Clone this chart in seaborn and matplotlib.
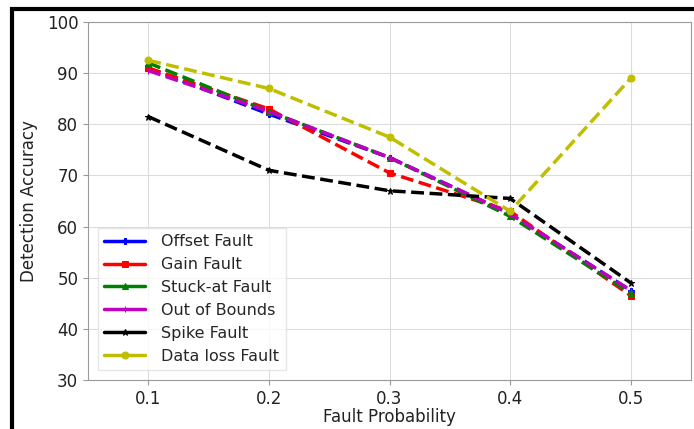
import matplotlib
matplotlib.use("Agg")
import matplotlib.pyplot as plt
import matplotlib.patches as mpatches
import seaborn as sns

fault_prob = [0.1, 0.2, 0.3, 0.4, 0.5]

offset_fault = [91.0, 82.0, 73.5, 62.5, 47.5]
gain_fault = [91.0, 83.0, 70.5, 63.0, 46.5]
stuck_fault = [92.0, 82.5, 73.5, 62.0, 47.0]
out_of_bounds = [90.5, 82.5, 73.5, 62.5, 47.5]
spike_fault = [81.5, 71.0, 67.0, 65.5, 49.0]
data_loss = [92.5, 87.0, 77.5, 63.0, 89.0]

series = [
    ("Offset Fault", offset_fault, "b", "P"),
    ("Gain Fault", gain_fault, "r", "s"),
    ("Stuck-at Fault", stuck_fault, "g", "^"),
    ("Out of Bounds", out_of_bounds, "m", "+"),
    ("Spike Fault", spike_fault, "k", "*"),
    ("Data loss Fault", data_loss, "y", "o"),
]

sns.set_style("whitegrid", {
    "axes.edgecolor": "#9a9a9a",
    "grid.color": "#dcdcdc",
    "xtick.bottom": True,
    "ytick.left": True,
    "xtick.color": "#222222",
    "ytick.color": "#222222",
})
plt.rcParams["font.family"] = ["DejaVu Sans"]

fig = plt.figure(figsize=(6.94, 4.29), dpi=100)
ax = fig.add_axes([0.1268, 0.1142, 0.8689, 0.8345])

for name, vals, col, mk in series:
    sns.lineplot(x=fault_prob, y=vals, ax=ax, color=col, marker=mk,
                 markersize=5, linewidth=2.5, linestyle="--", label=name,
                 markeredgecolor=col)

ax.set_xlim(0.05, 0.55)
ax.set_ylim(30, 100)
ax.set_xticks(fault_prob)
ax.set_yticks(range(30, 101, 10))
ax.tick_params(labelsize=12, length=3.5, color="#9a9a9a")
ax.set_xlabel("Fault Probability", fontsize=12, color="#222222", labelpad=0)
ax.set_ylabel("Detection Accuracy", fontsize=12, color="#222222", labelpad=6)

leg = ax.legend(loc="lower left", fontsize=11.5, frameon=True, fancybox=False,
                borderaxespad=0.6, handlelength=2.6, handletextpad=1.0)
leg.get_frame().set_edgecolor("#e0e0e0")
# legend handles look solid in the original
for h in leg.get_lines():
    h.set_linestyle("-")

# black frame around the figure (cropped on the right and bottom)
fig.patches.append(mpatches.Rectangle((12 / 694, -0.2), 1.2, 1.2 - 9 / 429,
                                      transform=fig.transFigure, fill=False,
                                      edgecolor="black", linewidth=3.0))

fig.savefig("out.png", dpi=100)
